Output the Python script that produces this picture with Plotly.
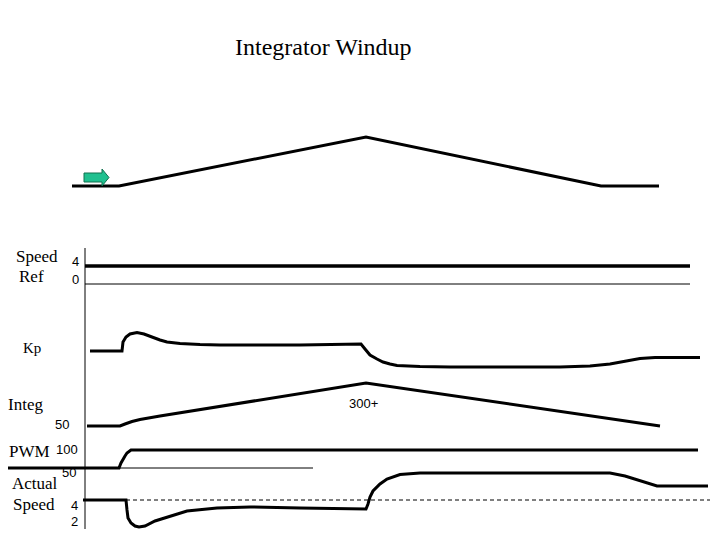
import plotly.graph_objects as go

# ---- schematic data (time axis 0..720, signal axis 0..540 top-down) ----
ramp_t = [72, 119, 366, 601, 659]
ramp_v = [186, 186, 137, 186, 186]

arrow_t = [84, 102, 102, 109, 102, 102, 84, 84]
arrow_v = [173, 173, 169, 177.5, 186, 182, 182, 173]

axis_t = [85, 85]
axis_v = [248, 529]

speedref_t = [85, 690]
speedref_v = [266, 266]
zero_t = [85, 690]
zero_v = [284, 284]

kp_t = [90, 122, 123, 126, 130, 137, 144, 150, 160, 167, 180, 200, 220, 300, 361,
        365, 370, 377, 383, 390, 397, 420, 450, 560, 590, 610, 625, 640, 655, 700]
kp_v = [351, 351, 342, 337, 334, 332.5, 334, 336.5, 340, 342, 343.5, 344.5, 345, 345, 344,
        349, 355, 359, 362, 364, 365.5, 366.5, 367, 367, 366, 364, 361, 358.5, 357.5, 357.5]

integ_t = [87, 120, 125, 132, 140, 150, 160, 366, 660]
integ_v = [426, 426, 424, 421.5, 419.5, 417.5, 416, 383, 426]

pwm_t = [0, 119, 121, 123, 125, 127, 129, 131, 698]
pwm_v = [468, 468, 463, 459, 456, 453, 451, 450, 450]
pwm50_t = [85, 313]
pwm50_v = [468, 468]

speed_t = [83, 126, 127, 128, 131, 135, 139, 145, 155, 167, 187, 217, 250, 300, 366,
           368, 370, 373, 380, 387, 400, 420, 610, 625, 640, 657, 708]
speed_v = [500, 500, 510, 518, 523, 526, 527, 526, 521, 517, 511, 508, 507, 508, 509,
           504, 497, 491, 484, 479, 474.5, 473, 473, 476, 481, 486, 486]
target_t = [126, 710]
target_v = [500, 500]

# ---- text ----
title_text = "Integrator Windup"
title_pos = (323, 47)

label_text = ["Speed", "Ref", "Kp", "Integ", "PWM", "Actual", "Speed"]
label_t = [37, 31, 32, 25, 29, 35, 34]
label_v = [256, 276, 348, 404, 451, 483, 504]
label_size = [17, 17, 15, 17, 17, 17, 17]

tick_text = ["4", "0", "50", "100", "50", "4", "2", "300+"]
tick_t = [75, 75, 62, 67, 69, 74, 74, 363]
tick_v = [261, 279, 424, 449, 472, 505, 521, 403]

fig = go.Figure()

def line(t, v, w, dash="solid"):
    fig.add_trace(go.Scatter(x=t, y=v, mode="lines",
                             line=dict(color="black", width=w, dash=dash, shape="linear"),
                             hoverinfo="skip"))

line(ramp_t, ramp_v, 3)
fig.add_trace(go.Scatter(x=arrow_t, y=arrow_v, mode="lines", fill="toself",
                         fillcolor="#20c08f", line=dict(color="#10704f", width=1),
                         hoverinfo="skip"))
line(axis_t, axis_v, 1)
line(speedref_t, speedref_v, 3.5)
line(zero_t, zero_v, 1)
line(kp_t, kp_v, 3)
line(integ_t, integ_v, 3)
line(pwm50_t, pwm50_v, 1)
line(pwm_t, pwm_v, 3)
line(target_t, target_v, 1, dash="4px,3px")
line(speed_t, speed_v, 3)

fig.add_annotation(x=title_pos[0], y=title_pos[1], text=title_text, showarrow=False,
                   font=dict(family="Liberation Serif, Times New Roman, serif", size=24, color="black"),
                   xanchor="center", yanchor="middle")

for txt, t, v, s in zip(label_text, label_t, label_v, label_size):
    fig.add_annotation(x=t, y=v, text=txt, showarrow=False,
                       font=dict(family="Liberation Serif, Times New Roman, serif", size=s, color="black"),
                       xanchor="center", yanchor="middle")

for txt, t, v in zip(tick_text, tick_t, tick_v):
    fig.add_annotation(x=t, y=v, text=txt, showarrow=False,
                       font=dict(family="Liberation Sans, Arial, sans-serif", size=13, color="black"),
                       xanchor="center", yanchor="middle")

# the page body has an 8px default margin: the figure covers page px 8..720 / 8..540
fig.update_layout(
    width=712, height=532,
    margin=dict(l=0, r=0, t=0, b=0),
    paper_bgcolor="white", plot_bgcolor="white",
    showlegend=False,
    xaxis=dict(range=[8, 720], visible=False, fixedrange=True),
    yaxis=dict(range=[540, 8], visible=False, fixedrange=True),
)

fig.write_html("out.html")
